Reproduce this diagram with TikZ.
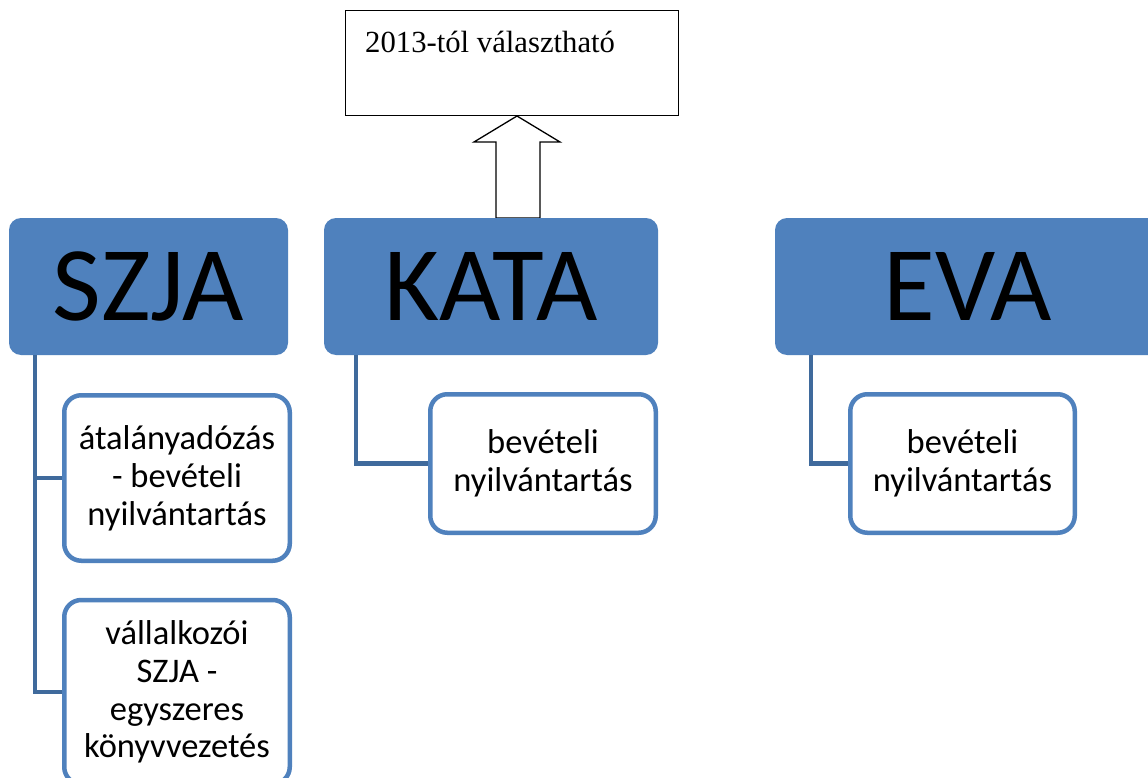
\documentclass[tikz,border=0pt]{standalone}
\usepackage{fontspec}
\setmainfont{Liberation Serif}
\newfontfamily\calibrifont{Carlito}
\definecolor{headblue}{HTML}{4F81BD}
\definecolor{connblue}{HTML}{3F6A9C}
\tikzset{
  headbox/.style={fill=headblue, rounded corners=12pt, inner sep=0pt, minimum height=137pt,
    font=\calibrifont\fontsize{106}{110}\selectfont, text=black},
  childbox/.style={draw=headblue, line width=4.5pt, fill=white, rounded corners=17pt, inner sep=0pt,
    align=center, font=\calibrifont\fontsize{34.5}{37.8}\selectfont, text=black},
  conn/.style={draw=connblue, line width=4.5pt},
  notebox/.style={draw=black, line width=1.3pt, fill=white, inner sep=0pt},
  blockarrow/.style={draw=black, line width=1.3pt, fill=white, line join=miter}
}
\begin{document}
\begin{tikzpicture}[x=1pt,y=-1pt]
\clip (0,0) rectangle (1148,778);
\fill[white] (0,0) rectangle (1148,778);

% top note box
\node[notebox, minimum width=333pt, minimum height=105pt] (note) at (512,63) {};
\node[anchor=base west, inner sep=0pt, font=\fontsize{30.7}{36}\selectfont] (notetext) at (365,53) {2013-tól választható};

% block arrow from KATA to note
\coordinate (tip) at (517,116);
\draw[blockarrow] (tip) -- (560,142) -- (540,142) -- (540,218) -- (496,218) -- (496,142) -- (474,142) -- cycle;

% head boxes
\node[headbox, minimum width=279pt] (szja) at (148.5,286.5) {SZJA};
\node[headbox, minimum width=334pt] (kata) at (491,286.5) {KATA};
\node[headbox, minimum width=385pt] (eva) at (967.5,286.5) {EVA};

% child boxes
\node[childbox, minimum width=225.5pt, minimum height=165.5pt] (c1) at (177,478) {átalányadózás\\- bevételi\\nyilvántartás};
\node[childbox, minimum width=225.5pt, minimum height=184pt] (c2) at (177,692) {vállalkozói\\SZJA -\\egyszeres\\könyvvezetés};
\node[childbox, minimum width=225.5pt, minimum height=138.5pt] (kc) at (543,463.5) {bevételi\\nyilvántartás};
\node[childbox, minimum width=224.5pt, minimum height=138.5pt] (ec) at (962.5,463.5) {bevételi\\nyilvántartás};

% connectors
\draw[conn] ([xshift=26pt]szja.south west) |- (c1.west);
\draw[conn] ([xshift=26pt]szja.south west) |- (c2.west);
\draw[conn] ([xshift=32pt]kata.south west) |- (kc.west);
\draw[conn] ([xshift=36pt]eva.south west) |- (ec.west);
\end{tikzpicture}
\end{document}
